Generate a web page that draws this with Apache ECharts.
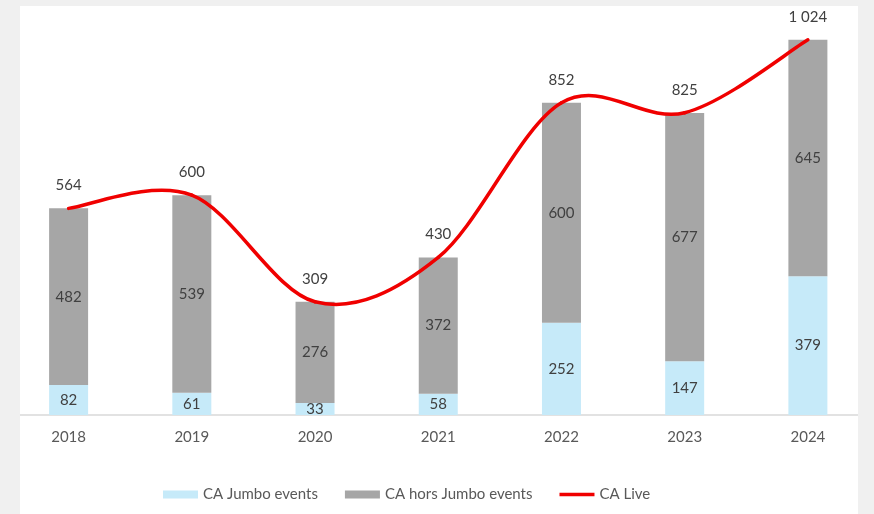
<!DOCTYPE html>
<html>
<head>
<meta charset="utf-8">
<script src="https://cdn.jsdelivr.net/npm/echarts@6/dist/echarts.min.js"></script>
<style>
  html, body { margin: 0; padding: 0; background: #f0f0f0; }
  #chart { width: 874px; height: 514px; }
</style>
</head>
<body>
<div id="chart"></div>
<script>
// Years on the category axis
const years = ['2018', '2019', '2020', '2021', '2022', '2023', '2024'];
// Revenue from jumbo events
const jumboEvents = [82, 61, 33, 58, 252, 147, 379];
// Revenue excluding jumbo events
const horsJumboEvents = [482, 539, 276, 372, 600, 677, 645];
// Total live revenue
const caLive = [564, 600, 309, 430, 852, 825, 1024];

const FONT = 'Lato, "Open Sans", sans-serif';
const RED = '#f00000';
const fmt = v => String(v).replace(/\B(?=(\d{3})+(?!\d))/g, ' ');

const chart = echarts.init(document.getElementById('chart'), null, { renderer: 'canvas' });

// One cubic segment of a Catmull-Rom style spline (tangent = (next - prev) / 6)
function renderSegment(params, api) {
  const i = params.dataIndex;
  const n = caLive.length;
  if (i >= n - 1) return null;
  const pt = k => {
    const j = Math.max(0, Math.min(n - 1, k));
    return api.coord([j, caLive[j]]);
  };
  const p0 = pt(i - 1), p1 = pt(i), p2 = pt(i + 1), p3 = pt(i + 2);
  const c1 = [p1[0] + (p2[0] - p0[0]) / 6, p1[1] + (p2[1] - p0[1]) / 6];
  const c2 = [p2[0] - (p3[0] - p1[0]) / 6, p2[1] - (p3[1] - p1[1]) / 6];
  return {
    type: 'path',
    shape: {
      pathData: `M${p1[0]} ${p1[1]} C${c1[0]} ${c1[1]} ${c2[0]} ${c2[1]} ${p2[0]} ${p2[1]}`
    },
    style: { fill: null, stroke: RED, lineWidth: 3.5, lineCap: 'round', lineJoin: 'round' }
  };
}

chart.setOption({
  backgroundColor: '#f0f0f0',
  animation: false,
  textStyle: { fontFamily: FONT },
  graphic: [
    // white chart panel
    { type: 'rect', z: -10, shape: { x: 20, y: 6, width: 838, height: 508 }, style: { fill: '#ffffff' } },
    // side margins drawn over the axis line ends
    { type: 'rect', z: 100, shape: { x: 0, y: 0, width: 20, height: 514 }, style: { fill: '#f0f0f0' } },
    { type: 'rect', z: 100, shape: { x: 858, y: 0, width: 16, height: 514 }, style: { fill: '#f0f0f0' } }
  ],
  grid: { left: 7, right: 4.5, top: 12, bottom: 99, containLabel: false },
  legend: {
    bottom: 7,
    left: 158,
    itemGap: 27,
    itemWidth: 35,
    itemHeight: 8,
    symbolKeepAspect: true,
    textStyle: { fontFamily: FONT, fontSize: 15, color: '#595959' },
    data: [
      { name: 'CA Jumbo events', icon: 'rect' },
      { name: 'CA hors Jumbo events', icon: 'rect' },
      { name: 'CA Live', icon: 'path://M0,0h35v3.5h-35z', itemStyle: { color: RED } }
    ]
  },
  xAxis: {
    type: 'category',
    data: years,
    axisLine: { lineStyle: { color: '#d9d9d9', width: 1.5 } },
    axisTick: { show: false },
    axisLabel: { color: '#595959', fontSize: 15, fontFamily: FONT, margin: 15 }
  },
  yAxis: {
    type: 'value',
    min: 0,
    max: 1100,
    show: false,
    splitLine: { show: false }
  },
  series: [
    {
      name: 'CA Jumbo events',
      type: 'bar',
      stack: 'ca',
      barWidth: 39,
      data: jumboEvents,
      itemStyle: { color: '#c6eaf9' },
      label: { show: true, position: 'inside', color: '#404040', fontSize: 15, fontFamily: FONT }
    },
    {
      name: 'CA hors Jumbo events',
      type: 'bar',
      stack: 'ca',
      barWidth: 39,
      data: horsJumboEvents,
      itemStyle: { color: '#a6a6a6' },
      label: { show: true, position: 'inside', color: '#404040', fontSize: 15, fontFamily: FONT }
    },
    {
      name: 'CA Live',
      type: 'custom',
      z: 5,
      clip: false,
      itemStyle: { color: RED },
      data: caLive.map((v, i) => [i, v]),
      encode: { x: 0, y: 1 },
      renderItem: renderSegment
    },
    {
      // total value labels above each point of the live line
      name: 'totals',
      type: 'scatter',
      z: 6,
      symbolSize: 1,
      itemStyle: { color: 'rgba(0,0,0,0)' },
      data: caLive,
      label: {
        show: true,
        position: 'top',
        distance: 15,
        color: '#404040',
        opacity: 1,
        fontSize: 15,
        fontFamily: FONT,
        formatter: p => fmt(p.value)
      }
    }
  ]
});
</script>
</body>
</html>
